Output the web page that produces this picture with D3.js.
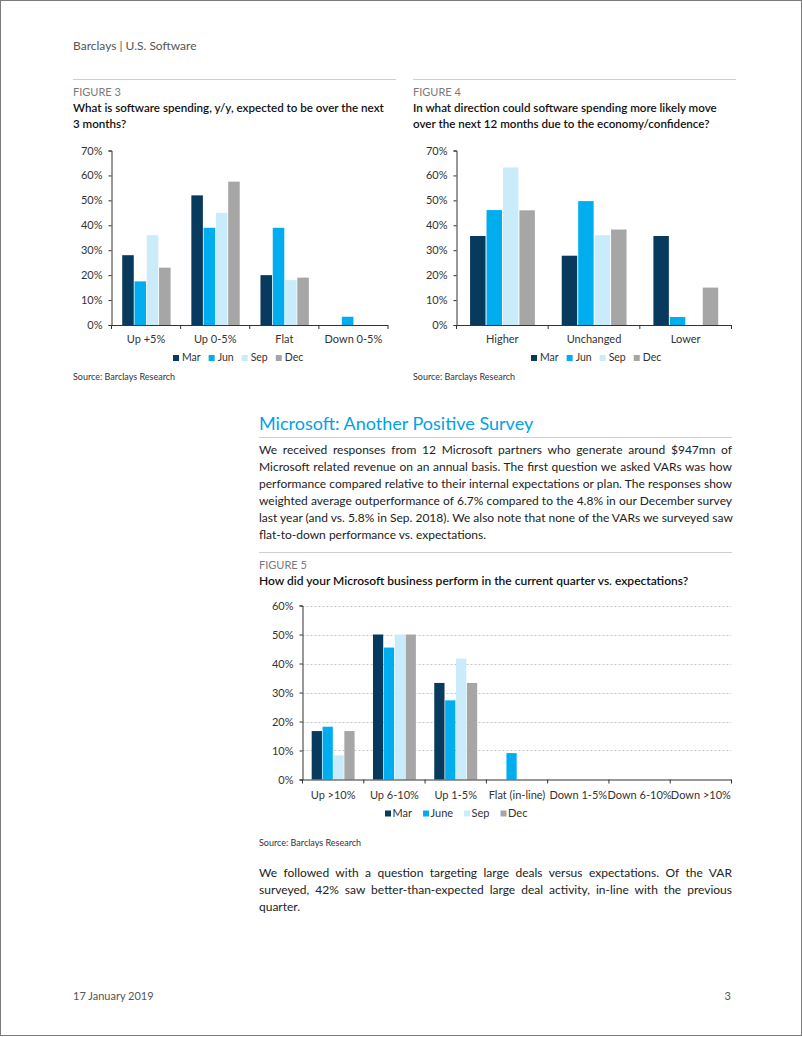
<!DOCTYPE html>
<html><head><meta charset="utf-8">
<script src="https://cdn.jsdelivr.net/npm/d3@7"></script>
<style>
html,body{margin:0;padding:0;background:#fff;}
body{width:802px;height:1037px;position:relative;overflow:hidden;font-family:Lato,"Open Sans",sans-serif;}
.para{position:absolute;left:259px;width:473px;font-size:12px;color:#222;}
.para div{height:17px;line-height:17px;text-align:justify;text-align-last:justify;white-space:nowrap;}
.para div.last{text-align-last:left;}
svg{position:absolute;left:0;top:0;}
</style></head>
<body>
<svg id="page" width="802" height="1037"></svg>
<div class="para" id="p1" style="top:441px"></div>
<div class="para" id="p2" style="top:864px"></div>
<script>
// ---------- DATA ----------
const seriesQ = ["Mar", "Jun", "Sep", "Dec"];
const seriesQ5 = ["Mar", "June", "Sep", "Dec"];
const colors = ["#083a5e", "#00aeef", "#c9ebfa", "#a6a6a6"];

const fig3Cats = ["Up +5%", "Up 0-5%", "Flat", "Down 0-5%"];
const fig3Mar = [0.28, 0.52, 0.20, 0];
const fig3Jun = [0.175, 0.39, 0.39, 0.033];
const fig3Sep = [0.36, 0.45, 0.18, 0];
const fig3Dec = [0.23, 0.575, 0.19, 0];

const fig4Cats = ["Higher", "Unchanged", "Lower"];
const fig4Mar = [0.357, 0.278, 0.357];
const fig4Jun = [0.461, 0.497, 0.032];
const fig4Sep = [0.632, 0.36, 0];
const fig4Dec = [0.46, 0.383, 0.15];

const fig5Cats = ["Up >10%", "Up 6-10%", "Up 1-5%", "Flat (in-line)", "Down 1-5%", "Down 6-10%", "Down >10%"];
const fig5Mar = [0.167, 0.50, 0.333, 0, 0, 0, 0];
const fig5Jun = [0.182, 0.455, 0.273, 0.091, 0, 0, 0];
const fig5Sep = [0.083, 0.50, 0.417, 0, 0, 0, 0];
const fig5Dec = [0.167, 0.50, 0.333, 0, 0, 0, 0];

const yTicks70 = [0, 0.1, 0.2, 0.3, 0.4, 0.5, 0.6, 0.7];
const yTicks60 = [0, 0.1, 0.2, 0.3, 0.4, 0.5, 0.6];

const para1 = [
 "We received responses from 12 Microsoft partners who generate around $947mn of",
 "Microsoft related revenue on an annual basis. The first question we asked VARs was how",
 "performance compared relative to their internal expectations or plan. The responses show",
 "weighted average outperformance of 6.7% compared to the 4.8% in our December survey",
 "last year (and vs. 5.8% in Sep. 2018). We also note that none of the VARs we surveyed saw",
 "flat-to-down performance vs. expectations."
];
const para2 = [
 "We followed with a question targeting large deals versus expectations. Of the VAR",
 "surveyed, 42% saw better-than-expected large deal activity, in-line with the previous",
 "quarter."
];

// ---------- PAGE ----------
const svg = d3.select("#page");
const FONT = "Lato, 'Open Sans', sans-serif";
svg.append("rect").attr("x",0.5).attr("y",0.5).attr("width",801).attr("height",1035)
  .attr("fill","none").attr("stroke","#7a7a7a");

function txt(x,y,s,size,fill,opts={}){
  const t = svg.append("text").attr("x",x).attr("y",y).text(s)
    .attr("font-family",FONT).attr("font-size",size).attr("fill",fill);
  if(opts.weight) t.attr("font-weight",opts.weight);
  if(opts.anchor) t.attr("text-anchor",opts.anchor);
  return t;
}
function rule(x1,x2,y){
  svg.append("line").attr("x1",x1).attr("x2",x2).attr("y1",y).attr("y2",y)
    .attr("stroke","#cfcfcf").attr("stroke-width",1.2);
}

txt(73,50,"Barclays | U.S. Software",12,"#555");
rule(73,396,79.5); rule(413,736,79.5);
txt(73,96,"FIGURE 3",11,"#7a7a7a");
txt(73,112,"What is software spending, y/y, expected to be over the next",11.6,"#111",{weight:600});
txt(73,128,"3 months?",11.6,"#111",{weight:600});
txt(413,96,"FIGURE 4",11,"#7a7a7a");
txt(413,112,"In what direction could software spending more likely move",11.6,"#111",{weight:600});
txt(413,128,"over the next 12 months due to the economy/confidence?",11.6,"#111",{weight:600});
txt(73,379.5,"Source: Barclays Research",9,"#333");
txt(413,379.5,"Source: Barclays Research",9,"#333");

txt(259,430,"Microsoft: Another Positive Survey",18,"#00a3e8");
rule(259,732,437.5);
rule(259,732,552.5);
txt(259,568.5,"FIGURE 5",11,"#7a7a7a");
txt(259,585,"How did your Microsoft business perform in the current quarter vs. expectations?",12,"#111",{weight:600});
txt(259,845.5,"Source: Barclays Research",9,"#333");

txt(73,1000,"17 January 2019",11,"#555");
txt(731,1000,"3",11,"#555",{anchor:"end"});

function fillPara(id, lines){
  const d = d3.select(id);
  lines.forEach((l,i)=>{
    d.append("div").attr("class", i===lines.length-1 ? "last" : null).text(l);
  });
}
fillPara("#p1", para1);
fillPara("#p2", para2);

// ---------- CHART ----------
function chart(cfg){
  const g = svg.append("g");
  const x = d3.scaleBand().domain(cfg.cats).range([cfg.x0, cfg.x1]).paddingInner(0).paddingOuter(0);
  const y = d3.scaleLinear().domain([0, cfg.max]).range([cfg.y0, cfg.yTop]);
  const bw = x.bandwidth();
  const sub = d3.scaleBand().domain(cfg.series).range([bw*cfg.g0, bw*cfg.g1]).paddingInner(cfg.pin);

  if(cfg.grid){
    g.selectAll(".grid").data(cfg.ticks.filter(t=>t>0)).join("line")
      .attr("x1",cfg.x0).attr("x2",cfg.x1).attr("y1",d=>Math.round(y(d))+0.5).attr("y2",d=>Math.round(y(d))+0.5)
      .attr("stroke","#b8b8b8").attr("stroke-dasharray","2,2").attr("stroke-width",0.8);
  }

  cfg.series.forEach((s,si)=>{
    g.selectAll(null).data(cfg.values[si]).join("rect")
      .attr("x",(d,i)=>x(cfg.cats[i]) + sub(s))
      .attr("width",sub.bandwidth())
      .attr("y",d=>y(d))
      .attr("height",d=>cfg.y0 - y(d))
      .attr("fill",cfg.colors[si]);
  });

  // y axis
  const ya = d3.axisLeft(y).tickValues(cfg.ticks).tickFormat(d3.format(".0%")).tickSize(3).tickPadding(6);
  const yg = g.append("g").attr("transform",`translate(${cfg.x0},0)`).call(ya);
  yg.select(".domain").attr("stroke","#333");
  yg.selectAll(".tick line").attr("stroke","#333");
  yg.selectAll("text").attr("font-family",FONT).attr("font-size",11).attr("fill","#333");

  // x axis: ticks at category boundaries
  g.append("line").attr("x1",cfg.x0).attr("x2",cfg.x1).attr("y1",cfg.y0+0.5).attr("y2",cfg.y0+0.5).attr("stroke","#333").attr("stroke-width",1.2);
  const bounds = cfg.cats.map(c=>x(c)).concat([cfg.x1]);
  g.selectAll(".xt").data(bounds).join("line")
    .attr("x1",d=>d).attr("x2",d=>d).attr("y1",cfg.y0).attr("y2",cfg.y0+4).attr("stroke","#333");
  g.selectAll(".xl").data(cfg.cats).join("text")
    .attr("x",d=>x(d)+bw/2).attr("y",cfg.y0+cfg.labelDy).attr("text-anchor","middle")
    .attr("font-family",FONT).attr("font-size",11).attr("fill","#333").text(d=>d);

  // legend
  const lg = g.append("g").attr("transform",`translate(${cfg.legX},${cfg.legY})`);
  let cx = 0;
  cfg.legendNames.forEach((n,i)=>{
    lg.append("rect").attr("x",cx).attr("y",-6).attr("width",cfg.sq).attr("height",cfg.sq).attr("fill",cfg.colors[i]);
    const t = lg.append("text").attr("x",cx+cfg.sq+cfg.tg).attr("y",0).text(n)
      .attr("font-family",FONT).attr("font-size",cfg.lfs).attr("fill","#333");
    cx += cfg.sq + cfg.tg + t.node().getComputedTextLength() + cfg.gap;
  });
}

chart({cats:fig3Cats, series:seriesQ, values:[fig3Mar,fig3Jun,fig3Sep,fig3Dec], colors,
  x0:111.5, x1:388, y0:325, yTop:150.5, max:0.7, ticks:yTicks70, grid:false,
  g0:0.155, g1:0.855, pin:0.06, labelDy:18,
  legendNames:seriesQ, legX:173, legY:361, sq:6, tg:3, gap:8, lfs:10.5});

chart({cats:fig4Cats, series:seriesQ, values:[fig4Mar,fig4Jun,fig4Sep,fig4Dec], colors,
  x0:456.5, x1:731.5, y0:325, yTop:150.5, max:0.7, ticks:yTicks70, grid:false,
  g0:0.148, g1:0.855, pin:0.06, labelDy:18,
  legendNames:seriesQ, legX:531, legY:361, sq:6, tg:3, gap:8, lfs:10.5});

chart({cats:fig5Cats, series:seriesQ5, values:[fig5Mar,fig5Jun,fig5Sep,fig5Dec], colors,
  x0:302.5, x1:731.5, y0:779.5, yTop:605.5, max:0.6, ticks:yTicks60, grid:true,
  g0:0.15, g1:0.85, pin:0.06, labelDy:19,
  legendNames:seriesQ5, legX:385, legY:816.5, sq:6, tg:1.5, gap:11, lfs:11});
</script>
</body></html>
